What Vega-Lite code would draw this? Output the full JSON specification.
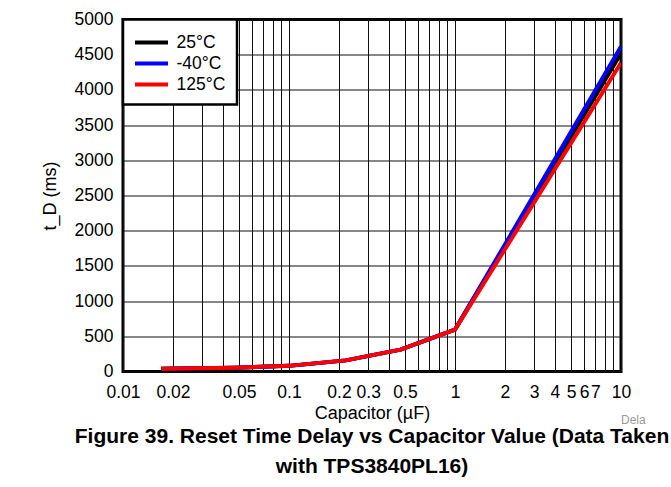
{
  "$schema": "https://vega.github.io/schema/vega-lite/v6.json",
  "width": 498,
  "height": 352,
  "autosize": "none",
  "padding": {"left": 123, "top": 19.5, "right": 50, "bottom": 115.5},
  "background": "white",
  "config": {
    "font": "Liberation Sans",
    "view": {"stroke": "black", "strokeWidth": 3},
    "axis": {
      "domain": false,
      "ticks": false,
      "tickSize": 0,
      "grid": true,
      "gridColor": "#111111",
      "gridOpacity": 1,
      "gridWidth": 1,
      "labelFont": "Liberation Sans",
      "labelFontSize": 17.5,
      "labelColor": "black",
      "titleFont": "Liberation Sans",
      "titleFontSize": 18,
      "titleFontWeight": "normal",
      "titleColor": "black"
    },
    "legend": {
      "labelFont": "Liberation Sans",
      "labelFontSize": 17.5,
      "labelColor": "black"
    }
  },
  "title": {
    "text": ["Figure 39. Reset Time Delay vs Capacitor Value (Data Taken", "with TPS3840PL16)"],
    "orient": "bottom",
    "anchor": "middle",
    "frame": "group",
    "font": "Liberation Sans",
    "fontSize": 21,
    "fontWeight": "bold",
    "color": "black",
    "lineHeight": 30,
    "offset": 0
  },
  "datasets": {
    "curves": [
      {"cap": 0.017, "td": 40, "temp": "25°C"},
      {"cap": 0.047, "td": 55, "temp": "25°C"},
      {"cap": 0.1, "td": 80, "temp": "25°C"},
      {"cap": 0.22, "td": 158, "temp": "25°C"},
      {"cap": 0.47, "td": 310, "temp": "25°C"},
      {"cap": 1, "td": 595, "temp": "25°C"},
      {"cap": 10, "td": 4520, "temp": "25°C"},
      {"cap": 0.017, "td": 40, "temp": "-40°C"},
      {"cap": 0.047, "td": 55, "temp": "-40°C"},
      {"cap": 0.1, "td": 80, "temp": "-40°C"},
      {"cap": 0.22, "td": 158, "temp": "-40°C"},
      {"cap": 0.47, "td": 310, "temp": "-40°C"},
      {"cap": 1, "td": 595, "temp": "-40°C"},
      {"cap": 10, "td": 4615, "temp": "-40°C"},
      {"cap": 0.017, "td": 40, "temp": "125°C"},
      {"cap": 0.047, "td": 55, "temp": "125°C"},
      {"cap": 0.1, "td": 80, "temp": "125°C"},
      {"cap": 0.22, "td": 158, "temp": "125°C"},
      {"cap": 0.47, "td": 310, "temp": "125°C"},
      {"cap": 1, "td": 595, "temp": "125°C"},
      {"cap": 10, "td": 4385, "temp": "125°C"}
    ],
    "note": [{"text": "Dela"}]
  },
  "layer": [
    {
      "data": {"name": "curves"},
      "mark": {"type": "line", "strokeWidth": 4, "strokeCap": "butt", "strokeJoin": "miter", "clip": true},
      "encoding": {
        "x": {
          "field": "cap",
          "type": "quantitative",
          "scale": {"type": "log", "domain": [0.01, 10], "nice": false},
          "axis": {
            "title": "Capacitor (µF)",
            "grid": true,
            "values": [0.01, 0.02, 0.03, 0.04, 0.05, 0.06, 0.07, 0.08, 0.09, 0.1, 0.2, 0.3, 0.4, 0.5, 0.6, 0.7, 0.8, 0.9, 1, 2, 3, 4, 5, 6, 7, 8, 9, 10],
            "labelExpr": "indexof([0.01, 0.02, 0.05, 0.1, 0.2, 0.3, 0.5, 1, 2, 3, 4, 5, 6, 7, 10], datum.value) >= 0 ? format(datum.value, '~g') : ''",
            "labelOverlap": false,
            "labelFlush": false,
            "labelPadding": 12,
            "titlePadding": 3
          }
        },
        "y": {
          "field": "td",
          "type": "quantitative",
          "scale": {"domain": [0, 5000], "nice": false},
          "axis": {
            "title": "t_D (ms)",
            "grid": true,
            "format": "d",
            "labelOverlap": false,
            "labelFlush": false,
            "values": [0, 500, 1000, 1500, 2000, 2500, 3000, 3500, 4000, 4500, 5000],
            "labelPadding": 10,
            "titlePadding": 15
          }
        },
        "color": {
          "field": "temp",
          "type": "nominal",
          "sort": null,
          "scale": {"domain": ["25°C", "-40°C", "125°C"], "range": ["#000000", "#0000ff", "#ff0000"]},
          "legend": {
            "title": null,
            "orient": "none",
            "legendX": 0,
            "legendY": 0,
            "padding": 11,
            "fillColor": "white",
            "strokeColor": "black",
            "symbolType": "M-1.65,0H1.65",
            "symbolSize": 400,
            "symbolStrokeWidth": 4,
            "symbolOffset": 5.5,
            "labelOffset": 13,
            "rowPadding": 0,
            "encode": {"legend": {"update": {"strokeWidth": {"value": 2.5}}}}
          }
        }
      }
    },
    {
      "data": {"name": "note"},
      "mark": {"type": "text", "align": "left", "baseline": "middle", "fontSize": 12, "color": "#999999", "font": "Liberation Sans"},
      "encoding": {
        "x": {
          "datum": 10,
          "type": "quantitative",
          "axis": {
            "title": "Capacitor (µF)",
            "grid": true,
            "values": [0.01, 0.02, 0.03, 0.04, 0.05, 0.06, 0.07, 0.08, 0.09, 0.1, 0.2, 0.3, 0.4, 0.5, 0.6, 0.7, 0.8, 0.9, 1, 2, 3, 4, 5, 6, 7, 8, 9, 10],
            "labelExpr": "indexof([0.01, 0.02, 0.05, 0.1, 0.2, 0.3, 0.5, 1, 2, 3, 4, 5, 6, 7, 10], datum.value) >= 0 ? format(datum.value, '~g') : ''",
            "labelOverlap": false,
            "labelFlush": false,
            "labelPadding": 12,
            "titlePadding": 3
          }
        },
        "y": {
          "datum": -690,
          "type": "quantitative",
          "axis": {
            "title": "t_D (ms)",
            "grid": true,
            "format": "d",
            "labelOverlap": false,
            "labelFlush": false,
            "values": [0, 500, 1000, 1500, 2000, 2500, 3000, 3500, 4000, 4500, 5000],
            "labelPadding": 10,
            "titlePadding": 15
          }
        },
        "text": {"field": "text", "type": "nominal"}
      }
    }
  ]
}
